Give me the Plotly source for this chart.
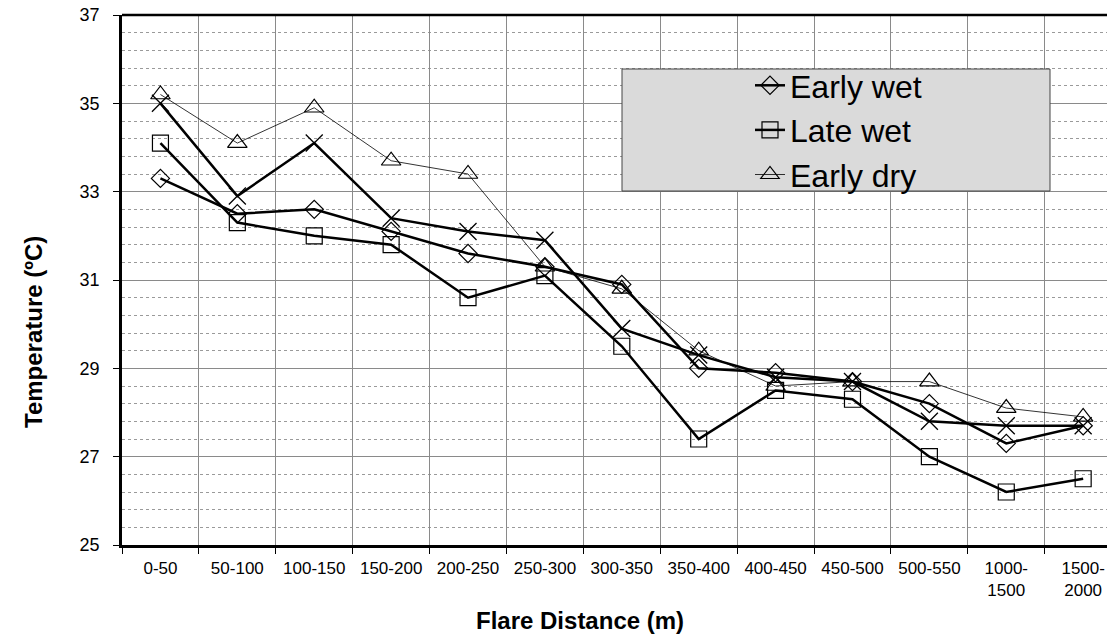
import plotly.graph_objects as go

categories = ["0-50", "50-100", "100-150", "150-200", "200-250", "250-300", "300-350",
              "350-400", "400-450", "450-500", "500-550", "1000-<br>1500", "1500-<br>2000"]
early_wet = [33.3, 32.5, 32.6, 32.1, 31.6, 31.3, 30.9, 29.0, 28.9, 28.7, 28.2, 27.3, 27.7]
late_wet = [34.1, 32.3, 32.0, 31.8, 30.6, 31.1, 29.5, 27.4, 28.5, 28.3, 27.0, 26.2, 26.5]
early_dry = [35.2, 34.1, 34.9, 33.7, 33.4, 31.3, 30.8, 29.4, 28.6, 28.7, 28.7, 28.1, 27.9]
late_dry = [35.0, 32.9, 34.1, 32.4, 32.1, 31.9, 29.9, 29.3, 28.8, 28.7, 27.8, 27.7, 27.7]

FONT = "Liberation Sans, Arial, sans-serif"

fig = go.Figure()
fig.add_trace(go.Scatter(x=categories, y=late_dry, mode="lines+markers", name="Late dry",
                         showlegend=False,
                         line=dict(color="black", width=2.5),
                         marker=dict(symbol="x-thin-open", size=17, color="black",
                                     line=dict(color="black", width=1.3))))
fig.add_trace(go.Scatter(x=categories, y=early_wet, mode="lines+markers", name="Early wet",
                         line=dict(color="black", width=2.5),
                         marker=dict(symbol="diamond-open", size=14, color="black",
                                     line=dict(color="black", width=1.2))))
fig.add_trace(go.Scatter(x=categories, y=late_wet, mode="lines+markers", name="Late wet",
                         line=dict(color="black", width=2.5),
                         marker=dict(symbol="square-open", size=16, color="black",
                                     line=dict(color="black", width=1.2))))
fig.add_trace(go.Scatter(x=categories, y=early_dry, mode="lines+markers", name="Early dry",
                         line=dict(color="black", width=0.8),
                         marker=dict(symbol="triangle-up-open", size=17, color="black",
                                     line=dict(color="black", width=1.2))))

fig.update_layout(
    width=1107, height=641,
    margin=dict(l=122, r=0, t=15, b=96, autoexpand=False),
    paper_bgcolor="white", plot_bgcolor="white",
    font=dict(family=FONT, color="black", size=17),
    showlegend=True,
    legend=dict(x=(750 - 122) / 985, y=(545 - 58) / 530, xanchor="left", yanchor="top",
                bgcolor="rgba(0,0,0,0)", borderwidth=0,
                font=dict(family=FONT, size=32, color="black"),
                traceorder="normal", itemwidth=30),
    shapes=[
        dict(type="rect", xref="paper", yref="paper",
             x0=(622 - 122) / 985, x1=(1050 - 122) / 985,
             y0=(545 - 191) / 530, y1=(545 - 69) / 530,
             fillcolor="#dadada", line=dict(color="#444", width=1), layer="above"),
        dict(type="line", xref="paper", yref="paper", x0=0, x1=1, y0=1, y1=1,
             line=dict(color="black", width=2.5), layer="above"),
    ],
    annotations=[
        dict(text="<b>Temperature (ºC)</b>", xref="paper", yref="paper",
             x=(33 - 122) / 985, y=(545 - 332) / 530, textangle=-90,
             showarrow=False, xanchor="center", yanchor="middle",
             font=dict(family=FONT, size=24, color="black")),
        dict(text="<b>Flare Distance (m)</b>", xref="paper", yref="paper",
             x=(580 - 122) / 985, y=-(620 - 545) / 530,
             showarrow=False, xanchor="center", yanchor="middle",
             font=dict(family=FONT, size=24, color="black")),
    ],
)

fig.update_xaxes(
    type="category", range=[-0.5, 12.31], automargin=False,
    tickson="boundaries", ticks="outside", ticklen=6, tickcolor="black", tickwidth=1,
    showgrid=True, gridcolor="#8a8a8a", gridwidth=1,
    showline=True, linecolor="black", linewidth=2.5,
    tickfont=dict(size=17), ticklabelstandoff=6, tickangle=0,
    zeroline=False,
)
fig.update_yaxes(
    range=[25, 37], dtick=2, tick0=25, automargin=False,
    ticks="outside", ticklen=6, tickcolor="black", tickwidth=1,
    showgrid=True, gridcolor="#8a8a8a", gridwidth=1,
    minor=dict(dtick=0.4, tick0=25, ticks="", showgrid=True, gridcolor="#9a9a9a",
               griddash="dot", gridwidth=1),
    showline=True, linecolor="black", linewidth=2.5,
    tickfont=dict(size=18), ticklabelstandoff=10,
    zeroline=False,
)

fig.write_html("out.html", config={"displayModeBar": False},
               post_script="document.body.style.margin='0';document.body.style.overflow='hidden';")
